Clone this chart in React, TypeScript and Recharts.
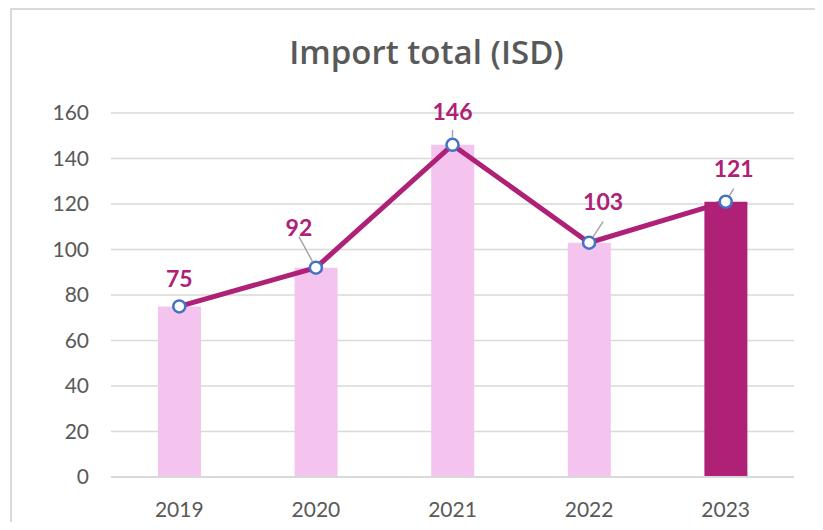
import React from "react";
import { ComposedChart, Bar, Line, XAxis, YAxis, CartesianGrid, Cell, LabelList } from "recharts";

const years = ["2019", "2020", "2021", "2022", "2023"];
const importTotal = [75, 92, 146, 103, 121];
const yTicks = [0, 20, 40, 60, 80, 100, 120, 140, 160];

const data = years.map((y, i) => ({ year: y, value: importTotal[i] }));

// label placement (style): offset of label centre from point, and leader start offset
const labelStyle = [
  { dx: 0, dy: -28, leader: false, ly: 0 },
  { dx: -17, dy: -41, leader: true, ly: 10 },
  { dx: 0, dy: -34, leader: true, ly: 19 },
  { dx: 14, dy: -42, leader: true, ly: 21 },
  { dx: 8, dy: -34, leader: true, ly: 21 },
];

const PURPLE = "#AE2176";
const PINK = "#F4C3EE";
const FONT = "Lato, 'Open Sans', sans-serif";

const renderLabel = (props: any) => {
  const { x, y, index, value } = props;
  const s = labelStyle[index];
  const cx = x + s.dx;
  const cy = y + s.dy;
  let leader = null;
  if (s.leader) {
    const sx = cx;
    const sy = cy + s.ly;
    const vx = x - sx;
    const vy = y - sy;
    const len = Math.sqrt(vx * vx + vy * vy);
    const ex = x - (vx / len) * 7;
    const ey = y - (vy / len) * 7;
    leader = <line x1={sx} y1={sy} x2={ex} y2={ey} stroke="#A6A6A6" strokeWidth={1.5} />;
  }
  return (
    <g>
      {leader}
      <text
        x={cx}
        y={cy}
        textAnchor="middle"
        dominantBaseline="central"
        fill={PURPLE}
        fontFamily={FONT}
        fontWeight={700}
        fontSize={23}
      >
        {value}
      </text>
    </g>
  );
};

export default function App() {
  return (
    <div style={{ position: "relative", width: 823, height: 530, margin: -8, background: "#fff", overflow: "hidden" }}>
      <div
        style={{
          position: "absolute",
          left: 10,
          top: 8,
          width: 840,
          height: 540,
          borderLeft: "2px solid #D9D9D9",
          borderTop: "2px solid #D9D9D9",
          boxSizing: "border-box",
        }}
      />
      <div
        style={{
          position: "absolute",
          left: 0,
          top: 31,
          width: 853,
          textAlign: "center",
          fontFamily: "'Open Sans', sans-serif",
          fontSize: 33,
          fontWeight: 600,
          color: "#595959",
          lineHeight: "42px",
        }}
      >
        Import total (ISD)
      </div>
      <div style={{ position: "absolute", left: 0, top: 0 }}>
        <ComposedChart
          width={823}
          height={530}
          data={data}
          margin={{ top: 113, right: 29, bottom: 0, left: 0 }}
          barCategoryGap={0}
        >
          <CartesianGrid vertical={false} stroke="#D9D9D9" strokeWidth={1.5} />
          <XAxis
            dataKey="year"
            axisLine={{ stroke: "#D9D9D9", strokeWidth: 2 }}
            tickLine={false}
            tickSize={0}
            tickMargin={25}
            height={53}
            tick={{ fill: "#595959", fontSize: 21, fontFamily: FONT }}
          />
          <YAxis
            domain={[0, 160]}
            ticks={yTicks}
            axisLine={false}
            tickLine={false}
            tickSize={0}
            tickMargin={22}
            width={111}
            tick={{ fill: "#595959", fontSize: 21, fontFamily: FONT }}
            interval={0}
          />
          <Bar dataKey="value" barSize={43} isAnimationActive={false}>
            {data.map((d, i) => (
              <Cell key={d.year} fill={i === data.length - 1 ? PURPLE : PINK} />
            ))}
          </Bar>
          <Line
            dataKey="value"
            stroke={PURPLE}
            strokeWidth={5}
            isAnimationActive={false}
            dot={{ r: 6, fill: "#fff", stroke: "#4472C4", strokeWidth: 2.5 }}
            activeDot={false}
          >
            <LabelList dataKey="value" content={renderLabel} />
          </Line>
        </ComposedChart>
      </div>
    </div>
  );
}
